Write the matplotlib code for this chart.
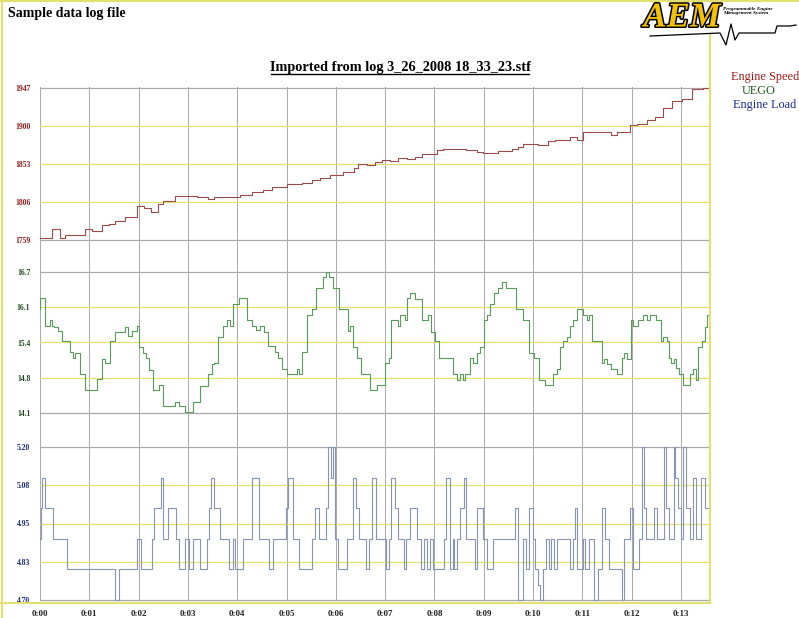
import matplotlib
matplotlib.use("Agg")
import matplotlib.pyplot as plt
from matplotlib.lines import Line2D
import matplotlib.patheffects as pe
import numpy as np

plt.rcParams['font.family'] = ['Liberation Serif', 'DejaVu Serif']

speed_steps = [(0,1761),(.24,1772),(.40,1762),(.51,1765),(.91,1772),(1.05,1770),(1.25,1777),(1.39,1779),(1.52,1782),(1.72,1788),
 (1.96,1801),(2.10,1799),(2.26,1794),(2.40,1804),(2.50,1807),(2.74,1813),(3.01,1814),(3.18,1812),(3.41,1810),(3.52,1812),
 (4.06,1815),(4.29,1818),(4.53,1821),(4.70,1824),(5.00,1828),(5.31,1830),(5.51,1833),(5.68,1836),(5.88,1839),(6.15,1843),
 (6.36,1848),(6.46,1853),(6.63,1852),(6.79,1855),(6.93,1858),(7.10,1857),(7.27,1861),(7.44,1859),(7.61,1862),(7.74,1865),
 (8.05,1870),(8.18,1871),(8.65,1870),(8.86,1868),(8.99,1866),(9.30,1869),(9.57,1871),(9.70,1874),(9.80,1878),(10.11,1877),
 (10.31,1881),(10.45,1883),(10.75,1887),(10.89,1883),(11.02,1892),(11.39,1893),(11.59,1889),(11.70,1893),(11.97,1901),(12.10,1903),
 (12.31,1907),(12.47,1911),(12.64,1922),(12.81,1931),(13.02,1933),(13.22,1946),(13.45,1947)]

uego_steps = [(0,16.01),(0.01,16.22),(0.10,15.71),(0.20,15.82),(0.24,15.71),(0.29,15.69),(0.36,15.62),(0.45,15.42),(0.61,15.23),
 (0.66,15.11),(0.71,15.20),(0.81,14.82),(0.91,14.52),(1.15,14.73),(1.25,15.10),(1.32,15.02),(1.42,15.42),(1.52,15.60),(1.72,15.69),
 (1.79,15.52),(1.86,15.61),(1.96,15.71),(2.01,15.31),(2.08,15.20),(2.15,15.11),(2.22,14.90),(2.30,14.53),(2.42,14.61),(2.50,14.22),
 (2.74,14.31),(2.81,14.22),(2.94,14.11),(3.11,14.31),(3.25,14.60),(3.41,14.81),(3.48,15.00),(3.52,15.02),(3.62,15.50),(3.72,15.71),
 (3.79,15.82),(3.85,15.71),(3.92,16.11),(4.04,16.22),(4.19,15.82),(4.29,15.71),(4.39,15.63),(4.46,15.71),(4.55,15.60),(4.63,15.33),
 (4.77,15.22),(4.83,15.11),(4.90,14.91),(5.00,14.82),(5.21,14.91),(5.25,14.82),(5.31,15.22),(5.41,15.91),(5.51,16.01),(5.60,16.41),
 (5.75,16.61),(5.81,16.70),(5.86,16.61),(5.95,16.41),(6.07,16.01),(6.24,15.62),(6.29,15.71),(6.34,15.31),(6.42,15.11),(6.52,14.82),
 (6.69,14.52),(6.83,14.61),(7.00,15.02),(7.07,15.11),(7.11,15.82),(7.27,15.71),(7.30,15.91),(7.40,15.82),(7.45,16.22),(7.51,16.31),
 (7.61,16.20),(7.74,15.82),(7.88,15.91),(7.94,15.60),(8.01,15.42),(8.10,15.11),(8.38,14.82),(8.45,14.71),(8.52,14.82),(8.59,14.71),
 (8.63,14.82),(8.72,15.11),(8.79,15.02),(8.87,15.20),(8.92,15.31),(9.01,15.82),(9.06,15.91),(9.13,16.11),(9.21,16.31),(9.30,16.41),
 (9.38,16.51),(9.45,16.41),(9.66,16.01),(9.80,15.82),(9.91,15.20),(10.01,15.11),(10.13,14.71),(10.24,14.61),(10.41,14.81),(10.48,14.91),
 (10.55,15.31),(10.61,15.42),(10.68,15.51),(10.75,15.71),(10.82,15.82),(10.89,16.01),(11.02,15.91),(11.09,15.82),(11.14,15.91),(11.19,15.42),
 (11.39,15.02),(11.44,15.10),(11.51,15.01),(11.59,14.91),(11.70,14.82),(11.80,15.11),(11.84,15.20),(11.91,15.10),(11.98,15.82),(12.03,15.71),
 (12.12,15.82),(12.24,15.91),(12.31,15.82),(12.37,15.91),(12.49,15.82),(12.59,15.42),(12.64,15.51),(12.71,15.42),(12.75,15.11),(12.79,15.02),
 (12.86,15.10),(12.91,14.93),(12.97,14.82),(13.05,14.61),(13.18,14.82),(13.24,14.91),(13.31,14.71),(13.34,15.31),(13.42,15.42),(13.49,15.69),
 (13.52,15.91)]

load_steps = [(0,4.90),(0.02,5.00),(0.05,5.10),(0.10,5.00),(0.27,4.90),(0.54,4.80),(1.52,4.70),(1.60,4.80),(1.96,4.90),(2.04,4.80),
 (2.27,4.90),(2.32,5.00),(2.45,5.10),(2.50,4.90),(2.59,5.00),(2.75,4.90),(2.81,4.80),(2.94,4.90),(3.02,4.80),(3.10,4.90),(3.25,4.80),
 (3.39,4.90),(3.43,5.00),(3.47,5.10),(3.52,5.00),(3.65,4.90),(3.84,4.80),(3.91,4.90),(3.96,4.80),(4.11,4.90),(4.31,5.10),(4.45,4.90),
 (4.65,4.80),(4.72,4.90),(4.99,5.00),(5.04,5.10),(5.14,4.90),(5.26,4.80),(5.51,4.90),(5.58,5.00),(5.65,4.90),(5.80,5.00),(5.85,5.20),
 (5.90,5.10),(5.95,5.20),(5.98,4.90),(6.05,4.80),(6.22,4.90),(6.34,5.10),(6.41,5.00),(6.48,4.90),(6.61,4.80),(6.68,4.90),(6.73,5.10),
 (6.81,4.90),(7.01,4.80),(7.07,4.90),(7.11,5.10),(7.21,5.00),(7.27,4.90),(7.38,4.80),(7.42,4.90),(7.51,5.00),(7.65,4.90),(7.72,4.80),
 (7.79,4.90),(7.84,4.80),(7.92,4.90),(7.98,4.80),(8.19,4.90),(8.24,5.10),(8.32,4.80),(8.37,4.90),(8.40,4.80),(8.45,4.90),(8.52,5.00),
 (8.60,5.10),(8.64,4.90),(8.82,4.80),(8.87,5.00),(8.99,4.90),(9.06,4.80),(9.19,4.90),(9.64,5.00),(9.70,4.70),(9.80,4.90),(9.86,4.80),
 (9.91,5.00),(10.00,4.90),(10.04,4.80),(10.11,4.75),(10.14,4.70),(10.21,4.80),(10.26,4.90),(10.33,4.80),(10.37,4.90),(10.43,4.80),
 (10.48,4.90),(10.75,4.80),(10.81,4.90),(10.85,5.00),(10.90,4.80),(11.01,4.90),(11.05,4.80),(11.14,4.90),(11.24,4.70),(11.31,4.80),
 (11.39,5.00),(11.46,4.90),(11.55,4.80),(11.80,4.70),(11.84,4.90),(11.97,5.00),(12.03,4.80),(12.14,4.90),(12.22,5.20),(12.25,5.00),
 (12.29,4.90),(12.45,5.00),(12.51,4.90),(12.66,5.20),(12.70,5.00),(12.75,4.90),(12.85,5.20),(12.89,5.10),(12.95,5.00),(13.00,4.90),
 (13.05,5.20),(13.11,5.00),(13.19,4.90),(13.24,5.10),(13.31,4.90),(13.40,5.10),(13.49,5.00)]

t_end = 13.59
time_labels = ["0:%02d" % i for i in range(14)]
speed_ticks = [1759, 1806, 1853, 1900, 1947]
speed_labels = ["1759", "1806", "1853", "1900", "1947"]
uego_ticks = [14.1, 14.75, 15.4, 16.05, 16.7]
uego_labels = ["14.1", "14.8", "15.4", "16.1", "16.7"]
load_ticks = [4.70, 4.825, 4.95, 5.075, 5.20]
load_labels = ["4.70", "4.83", "4.95", "5.08", "5.20"]

W, H = 799, 618
fig = plt.figure(figsize=(W/100, H/100), dpi=100)

def fx(x): return x / W
def fy(y): return 1 - y / H

X0, X1 = 40, 710
GRAY = "#a8a8a8"
YEL = "#e2e070"

bg = fig.add_axes([fx(X0), fy(600), fx(X1 - X0), fy(87) - fy(600)])
bg.set_xlim(0, t_end)
bg.set_ylim(0, 1)
for s in bg.spines.values():
    s.set_visible(False)
bg.set_yticks([])
bg.set_xticks(range(14))
bg.set_xticklabels(time_labels, fontsize=6.5, fontweight='bold', color='#222222')
bg.tick_params(axis='x', length=0, pad=7)
for i in range(14):
    bg.axvline(i, color=GRAY, lw=0.7)

panels = [
    (speed_steps, speed_ticks, speed_labels, 88, 240, "#9c4a4a", "#8b1a1a"),
    (uego_steps, uego_ticks, uego_labels, 272, 413, "#5a9a5a", "#1e4a1e"),
    (load_steps, load_ticks, load_labels, 447, 600, "#8894b4", "#1a2a7a"),
]
for steps, ticks, labels, ytop, ybot, lc, tc in panels:
    ax = fig.add_axes([fx(X0), fy(ybot), fx(X1 - X0), fy(ytop) - fy(ybot)])
    ax.patch.set_alpha(0)
    for s in ax.spines.values():
        s.set_visible(False)
    ax.set_xlim(0, t_end)
    ax.set_ylim(ticks[0], ticks[-1])
    for k, tk in enumerate(ticks):
        col = GRAY if k in (0, len(ticks) - 1) else YEL
        ax.axhline(tk, color=col, lw=0.9, clip_on=False, zorder=1)
    ts = [p[0] for p in steps] + [t_end]
    vs = [p[1] for p in steps] + [steps[-1][1]]
    ax.step(ts, vs, where='post', color=lc, lw=0.8, zorder=3, clip_on=False)
    ax.set_xticks([])
    ax.set_yticks(ticks)
    ax.set_yticklabels(labels, fontsize=5.5, color=tc, fontweight='bold')
    ax.tick_params(axis='y', length=0, pad=7)

fig.add_artist(Line2D([fx(1.5), fx(1.5)], [0, 1], color=YEL, lw=1.5))
fig.add_artist(Line2D([0, 1], [fy(1), fy(1)], color=YEL, lw=1.5))
fig.add_artist(Line2D([fx(710), fx(710)], [fy(35), fy(603)], color=YEL, lw=1.5))
fig.add_artist(Line2D([fx(0), fx(710)], [fy(603), fy(603)], color=YEL, lw=1.5))

fig.text(fx(8), fy(13), "Sample data log file", fontsize=10, fontweight='bold', va='center', ha='left')
title = "Imported from log 3_26_2008 18_33_23.stf"
fig.text(fx(400), fy(67), title, fontsize=10.3, fontweight='bold', ha='center', va='center')
fig.add_artist(Line2D([fx(271), fx(529)], [fy(74), fy(74)], color='black', lw=1.0))
fig.text(fx(765), fy(77), "Engine Speed", fontsize=8.8, color="#a01818", ha='center', va='center')
fig.text(fx(759), fy(91), "UEGO", fontsize=8.8, color="#1e5a1e", ha='center', va='center')
fig.text(fx(765), fy(105), "Engine Load", fontsize=8.8, color="#1a2a8a", ha='center', va='center')

fig.text(fx(682), fy(18), "AEM", fontsize=25, fontweight='bold', style='italic', color="#f2c200",
         ha='center', va='center', path_effects=[pe.withStroke(linewidth=2.2, foreground='black')])
fig.text(fx(723), fy(11), "Programmable Engine\nManagement System", fontsize=3.8, fontweight='bold',
         style='italic', ha='left', va='center', linespacing=1.0)
wx = [650, 720, 726, 731, 735, 739, 743, 775, 777, 790, 796]
wy = [36, 33, 45, 24, 40, 33, 33, 33, 26, 26, 25]
fig.add_artist(Line2D([fx(v) for v in wx], [fy(v) for v in wy], color='black', lw=0.9))

fig.savefig("out.png", dpi=100)
